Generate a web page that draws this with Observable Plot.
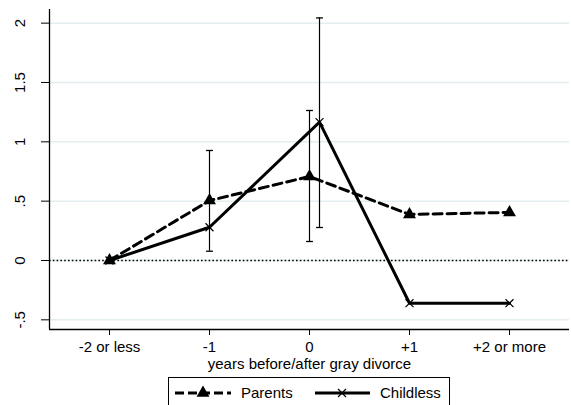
<!DOCTYPE html>
<html>
<head>
<meta charset="utf-8">
<script src="https://cdn.jsdelivr.net/npm/d3@7"></script>
<script src="https://cdn.jsdelivr.net/npm/@observablehq/plot@0.6"></script>
<style>
  html, body { margin: 0; padding: 0; background: #fff; }
  body { width: 571px; height: 405px; overflow: hidden; font-family: "Liberation Sans", Arial, sans-serif; }
  #legend { position: relative; width: 571px; height: 33px; }
  #legend .box { position: absolute; left: 168px; top: 5px; width: 282px; height: 40px; border: 1px solid #000; box-sizing: border-box; }
</style>
</head>
<body>
<div id="chart"></div>
<div id="legend"></div>
<script>
// ---- data ----
const categories = ["-2 or less", "-1", "0", "+1", "+2 or more"];
const categoryPos = [-2, -1, 0, 1, 2];
const seriesNames = ["Parents", "Childless"];
const parentsX = [-2, -1, 0, 1, 2];
const parentsY = [0, 0.505, 0.708, 0.388, 0.405];
const childlessX = [-2, -1, 0.1, 1, 2];
const childlessY = [0, 0.28, 1.166, -0.36, -0.36];
const ciX = [-1, 0, 0.1];
const ciLow = [0.078, 0.16, 0.278];
const ciHigh = [0.927, 1.264, 2.044];
const yTicks = [-0.5, 0, 0.5, 1, 1.5, 2];
const yTickLabels = ["-.5", "0", ".5", "1", "1.5", "2"];
const xTitle = "years before/after gray divorce";

// ---- build tables ----
const parents = parentsX.map((x, i) => ({x, y: parentsY[i]}));
const childless = childlessX.map((x, i) => ({x, y: childlessY[i]}));
const ci = ciX.map((x, i) => ({x, lo: ciLow[i], hi: ciHigh[i]}));
const xDomain = [-2.6, 2.6];
const yDomain = [-0.5815, 2.115];

const capSymbol = {
  draw(ctx, size) {
    const w = Math.sqrt(size) / 2;
    ctx.moveTo(-w, 0);
    ctx.lineTo(w, 0);
  }
};

const font = `"Liberation Sans", Arial, sans-serif`;

const chart = Plot.plot({
  width: 571,
  height: 372,
  marginTop: 9,
  marginBottom: 43,
  marginLeft: 49,
  marginRight: 2,
  style: {fontFamily: font, fontSize: "15px", color: "#000", background: "#fff"},
  x: {domain: xDomain},
  y: {domain: yDomain},
  marks: [
    Plot.gridY(yTicks, {stroke: "#e4edf0", strokeOpacity: 1, strokeWidth: 1.5}),
    Plot.ruleY([0], {stroke: "#000", strokeWidth: 1.3, strokeDasharray: "1.6,2.2"}),
    Plot.ruleX([xDomain[0]], {stroke: "#000", strokeWidth: 1.3}),
    Plot.ruleY([yDomain[0]], {stroke: "#000", strokeWidth: 1.3}),
    Plot.axisY({ticks: yTicks, tickFormat: (d) => yTickLabels[yTicks.indexOf(d)], tickSize: 8, tickPadding: 17, tickRotate: -90, label: null, fontSize: 15}),
    Plot.axisX({ticks: categoryPos, tickFormat: (d) => categories[categoryPos.indexOf(d)], tickSize: 6, tickPadding: 6, label: null, fontSize: 15}),
    Plot.text([xTitle], {frameAnchor: "bottom", dy: 35, lineAnchor: "middle", fontSize: 15}),
    Plot.ruleX(ci, {x: "x", y1: "lo", y2: "hi", stroke: "#000", strokeWidth: 1.2}),
    Plot.dot(ci, {x: "x", y: "lo", symbol: capSymbol, r: 3.9, stroke: "#000", strokeWidth: 1.3}),
    Plot.dot(ci, {x: "x", y: "hi", symbol: capSymbol, r: 3.9, stroke: "#000", strokeWidth: 1.3}),
    Plot.line(parents, {x: "x", y: "y", stroke: "#000", strokeWidth: 3, strokeDasharray: "9,5"}),
    Plot.line(childless, {x: "x", y: "y", stroke: "#000", strokeWidth: 3}),
    Plot.dot(parents, {x: "x", y: "y", symbol: "triangle", r: 4.8, fill: "#000", stroke: "none"}),
    Plot.dot(childless, {x: "x", y: "y", symbol: "times", r: 3.7, stroke: "#000", strokeWidth: 1.2})
  ]
});
document.getElementById("chart").appendChild(chart);

// ---- legend ----
const legend = d3.select("#legend").append("div").attr("class", "box");
const svg = legend.append("svg").attr("width", 282).attr("height", 40).style("position", "absolute").style("left", "-1px").style("top", "-1px");
const cy = 16;
// Parents swatch
svg.append("line").attr("x1", 7).attr("x2", 63).attr("y1", cy).attr("y2", cy)
  .attr("stroke", "#000").attr("stroke-width", 3).attr("stroke-dasharray", "9,4");
svg.append("path").attr("d", d3.symbol(d3.symbolTriangle, Math.PI * 4.8 * 4.8)()).attr("transform", `translate(35,${cy})`).attr("fill", "#000");
svg.append("text").attr("x", 73).attr("y", cy).attr("dy", "0.35em").attr("font-size", 15).attr("font-family", font).text(seriesNames[0]);
// Childless swatch
svg.append("line").attr("x1", 147).attr("x2", 202).attr("y1", cy).attr("y2", cy)
  .attr("stroke", "#000").attr("stroke-width", 3);
svg.append("path").attr("d", d3.symbol(d3.symbolTimes, Math.PI * 3.7 * 3.7)()).attr("transform", `translate(174,${cy})`).attr("fill", "none").attr("stroke", "#000").attr("stroke-width", 1.2);
svg.append("text").attr("x", 212).attr("y", cy).attr("dy", "0.35em").attr("font-size", 15).attr("font-family", font).text(seriesNames[1]);
</script>
</body>
</html>
